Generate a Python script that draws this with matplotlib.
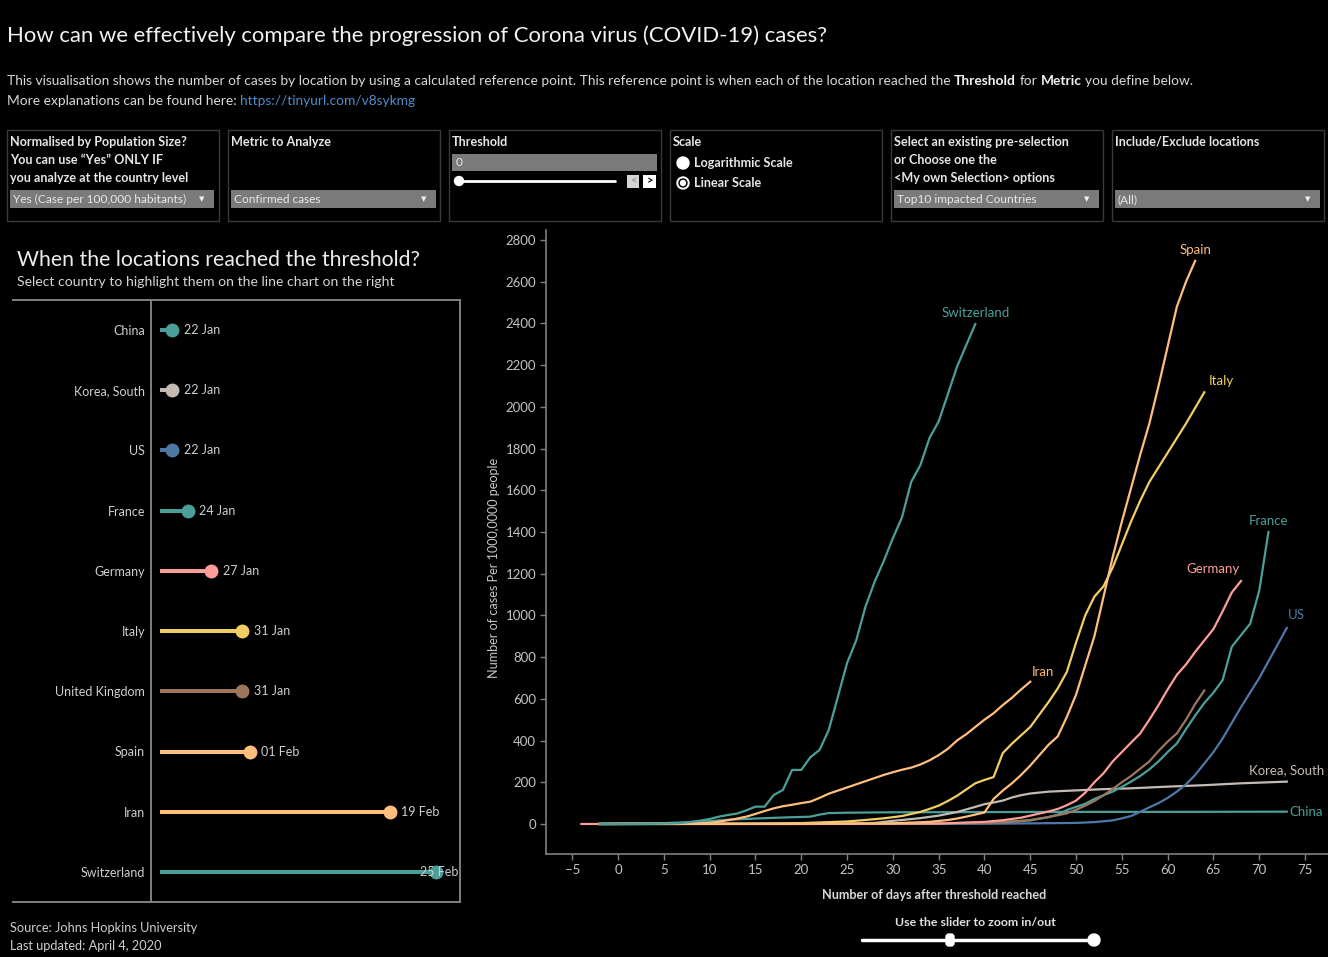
import numpy as np
import pandas as pd
import matplotlib
matplotlib.use("Agg")
import matplotlib.pyplot as plt
from matplotlib.patches import Rectangle, Circle, FancyBboxPatch

W, H = 1328, 957
plt.rcParams['font.family'] = ['Lato', 'DejaVu Sans']

# ---- data ----
countries = ["China", "Korea, South", "US", "France", "Germany", "Italy",
             "United Kingdom", "Spain", "Iran", "Switzerland"]
threshold_dates = ["22 Jan", "22 Jan", "22 Jan", "24 Jan", "27 Jan",
                   "31 Jan", "31 Jan", "01 Feb", "19 Feb", "25 Feb"]

china_days = [-2, 0, 3, 5, 8, 10, 12, 15, 18, 21, 22, 23, 25, 30, 40, 50, 60, 73]
china_vals = [0, 1, 2, 4, 9, 14, 20, 26, 31, 35, 45, 52, 54, 56, 57, 58, 58, 59]

korea_days = [-2, 20, 26, 28, 30, 31, 33, 35, 37, 39, 40, 41, 42, 43, 44, 45, 47,
              50, 53, 56, 60, 64, 68, 73]
korea_vals = [0, 1, 2, 5, 15, 19, 28, 40, 57, 82, 95, 103, 112, 127, 138, 146, 155,
              161, 167, 171, 179, 186, 195, 203]

us_days = [-2, 20, 40, 50, 52, 54, 55, 56, 57, 58, 59, 60, 61, 62, 63, 64, 65, 66,
           67, 68, 69, 70, 71, 72, 73]
us_vals = [0, 0, 1, 5, 9, 17, 27, 38, 58, 80, 100, 125, 155, 190, 235, 290, 345, 410,
           485, 560, 630, 700, 780, 860, 940]

france_days = [-2, 20, 30, 35, 40, 45, 46, 47, 48, 49, 50, 51, 52, 53, 54, 55, 56, 57,
               58, 59, 60, 61, 62, 63, 64, 65, 66, 67, 68, 69, 70, 71]
france_vals = [0, 1, 2, 3, 6, 17, 25, 33, 45, 67, 82, 97, 120, 138, 155, 178, 203, 230,
               262, 300, 345, 386, 455, 520, 580, 630, 690, 850, 905, 960, 1120, 1400]

germany_days = [-4, 20, 35, 40, 42, 44, 46, 47, 48, 49, 50, 51, 52, 53, 54, 55, 56, 57,
                58, 59, 60, 61, 62, 63, 64, 65, 66, 67, 68]
germany_vals = [0, 0, 2, 10, 18, 30, 50, 60, 72, 90, 112, 150, 200, 243, 300, 345, 390,
                434, 500, 570, 645, 715, 765, 825, 880, 935, 1020, 1110, 1165]

italy_days = [-2, 15, 20, 25, 27, 29, 31, 33, 34, 35, 36, 37, 38, 39, 40, 41, 42, 43,
              44, 45, 46, 47, 48, 49, 50, 51, 52, 53, 54, 55, 56, 57, 58, 59, 60, 61,
              62, 63, 64]
italy_vals = [0, 1, 4, 12, 19, 27, 38, 58, 72, 88, 110, 135, 165, 195, 211, 225, 340,
              385, 425, 465, 525, 585, 650, 730, 870, 1000, 1090, 1140, 1230, 1340,
              1450, 1550, 1640, 1710, 1780, 1850, 1920, 1995, 2070]

uk_days = [-2, 20, 35, 40, 42, 44, 45, 46, 47, 48, 49, 50, 51, 52, 53, 54, 55, 56, 57,
           58, 59, 60, 61, 62, 63, 64]
uk_vals = [0, 0, 2, 5, 8, 14, 19, 26, 33, 42, 51, 68, 88, 110, 138, 168, 200, 230, 265,
           300, 350, 395, 434, 500, 575, 640]

spain_days = [-2, 20, 30, 34, 36, 37, 38, 39, 40, 41, 42, 43, 44, 45, 46, 47, 48, 49,
              50, 51, 52, 53, 54, 55, 56, 57, 58, 59, 60, 61, 62, 63]
spain_vals = [0, 1, 3, 10, 19, 26, 35, 45, 55, 120, 160, 195, 235, 280, 330, 380, 420,
              514, 620, 760, 900, 1090, 1280, 1450, 1610, 1770, 1920, 2100, 2290, 2480,
              2600, 2700]

iran_days = [-2, 8, 10, 11, 12, 13, 14, 15, 16, 17, 18, 19, 20, 21, 22, 23, 24, 25, 26,
             27, 28, 29, 30, 31, 32, 33, 34, 35, 36, 37, 38, 39, 40, 41, 42, 43, 44, 45]
iran_vals = [0, 1, 5, 11, 18, 26, 35, 48, 62, 75, 85, 92, 100, 107, 125, 145, 160, 175,
             190, 205, 220, 235, 248, 260, 270, 285, 305, 330, 360, 400, 430, 465, 500,
             531, 570, 605, 645, 682]

swiss_days = [-2, 2, 4, 6, 7, 8, 9, 10, 11, 12, 13, 14, 15, 16, 17, 18, 19, 20, 21, 22,
              23, 24, 25, 26, 27, 28, 29, 30, 31, 32, 33, 34, 35, 36, 37, 38, 39]
swiss_vals = [0, 0, 1, 3, 5, 10, 16, 24, 35, 43, 50, 65, 83, 83, 139, 163, 259, 259,
              320, 355, 450, 610, 771, 880, 1040, 1160, 1260, 1370, 1470, 1640, 1720,
              1850, 1930, 2060, 2192, 2295, 2397]

colors = {"China": "#4aa099", "Korea, South": "#c4bbb5", "US": "#4e79a7",
          "France": "#4aa099", "Germany": "#ff9d9a", "Italy": "#f1ce63",
          "United Kingdom": "#9d7660", "Spain": "#ffbe7d", "Iran": "#ffbe7d",
          "Switzerland": "#4aa099"}

series = [("China", china_days, china_vals), ("Korea, South", korea_days, korea_vals),
          ("US", us_days, us_vals), ("France", france_days, france_vals),
          ("United Kingdom", uk_days, uk_vals), ("Germany", germany_days, germany_vals),
          ("Iran", iran_days, iran_vals), ("Italy", italy_days, italy_vals),
          ("Spain", spain_days, spain_vals), ("Switzerland", swiss_days, swiss_vals)]

# label offsets (points) and alignment for the line-end labels
label_pos = {"Switzerland": (0, 8, "center"), "Spain": (0, 8, "center"),
             "Italy": (12, 8, "center"), "France": (0, 8, "center"),
             "Germany": (-20, 9, "center"), "US": (7, 9, "center"),
             "Iran": (9, 7, "center"), "Korea, South": (0, 8, "center"),
             "China": (2, 0, "left")}

TXT = "#cfcfcf"
GRID = "#808080"

fig = plt.figure(figsize=(W / 100, H / 100), dpi=100, facecolor="black")
ov = fig.add_axes([0, 0, 1, 1], zorder=0)
ov.set_xlim(0, W)
ov.set_ylim(H, 0)
ov.axis("off")
renderer = fig.canvas.get_renderer()


def ax_rect(x0, y0, x1, y1):
    return [x0 / W, 1 - y1 / H, (x1 - x0) / W, (y1 - y0) / H]


def text_width(s, size, weight="normal"):
    t = ov.text(0, 0, s, fontsize=size, fontweight=weight)
    w = t.get_window_extent(renderer=renderer).width
    t.remove()
    return w


def fit(s, width, weight="normal"):
    return 10 * width / text_width(s, 10, weight)


def put(x, y, s, size, color=TXT, weight="normal", ha="left", **kw):
    return ov.text(x, y, s, fontsize=size, color=color, fontweight=weight,
                   ha=ha, va="center", **kw)


def rich(x, y, parts, size):
    space = text_width("x x", size) - text_width("xx", size)
    for s, weight, color in parts:
        put(x, y, s, size, color=color, weight=weight)
        x += text_width(s, size, weight) + space


# ---- header ----
title = "How can we effectively compare the progression of Corona virus (COVID-19) cases?"
put(7, 36, title, fit(title, 821), color="#f2f2f2")

line1 = ("This visualisation shows the number of cases by location by using a calculated "
         "reference point. This reference point is when each of the location reached the "
         "Threshold for Metric you define below.")
sub_size = fit(line1, 1180)
rich(7, 81, [("This visualisation shows the number of cases by location by using a "
              "calculated reference point. This reference point is when each of the "
              "location reached the", "normal", "#d9d9d9"),
             ("Threshold", "bold", "#f2f2f2"), ("for", "normal", "#d9d9d9"),
             ("Metric", "bold", "#f2f2f2"), ("you define below.", "normal", "#d9d9d9")],
     sub_size)
rich(7, 101, [("More explanations can be found here:", "normal", "#d9d9d9"),
              ("https://tinyurl.com/v8sykmg", "normal", "#4f8cc9")], sub_size)

# ---- parameter panels ----
panels = [(7, 219), (228, 440), (449, 661), (670, 882), (891, 1103), (1112, 1324)]
for x0, x1 in panels:
    ov.add_patch(Rectangle((x0, 130), x1 - x0, 91, fill=False, ec="#3a3a3a", lw=1))

psize = fit("Normalised by Population Size?", 178, "bold")
pcol = "#e6e6e6"
panel_lines = [(10, ["Normalised by Population Size?", "You can use \u201cYes\u201d ONLY IF",
                     "you analyze at the country level"]),
               (231, ["Metric to Analyze"]),
               (452, ["Threshold"]),
               (673, ["Scale"]),
               (894, ["Select an existing pre-selection", "or Choose one the",
                      "<My own Selection> options"]),
               (1115, ["Include/Exclude locations"])]
for x, lines in panel_lines:
    for k, s in enumerate(lines):
        put(x, 142 + 18 * k, s, psize, color=pcol, weight="bold")

dropdowns = [(10, 214, "Yes (Case per 100,000 habitants)"), (231, 436, "Confirmed cases"),
             (894, 1099, "Top10 impacted Countries"), (1115, 1320, "(All)")]
dsize = fit("Yes (Case per 100,000 habitants)", 172)
for x0, x1, s in dropdowns:
    ov.add_patch(Rectangle((x0, 190), x1 - x0, 18, color="#7a7a7a", lw=0))
    put(x0 + 3, 199.5, s, dsize, color="#e8e8e8")
    put(x1 - 12, 199, "\u25bc", 5, color="#f0f0f0", ha="center")

# threshold input and slider
ov.add_patch(Rectangle((452, 154), 205, 17, color="#7a7a7a", lw=0))
put(456, 163, "0", dsize, color="#e8e8e8")
ov.plot([457, 615], [181, 181], color="white", lw=2, solid_capstyle="round")
ov.add_patch(Circle((459, 181), 4.5, color="white"))
ov.add_patch(Rectangle((627, 175), 12, 13, color="#d5d5d5", lw=0))
ov.add_patch(Rectangle((643, 175), 13, 13, color="white", lw=0))
put(633, 181, "<", 8, color="#9a9a9a", ha="center", weight="bold")
put(649.5, 181, ">", 8, color="black", ha="center", weight="bold")

# scale radio buttons
ov.add_patch(Circle((683, 163), 6, color="white"))
ov.add_patch(Circle((683, 183), 6, color="white"))
ov.add_patch(Circle((683, 183), 4, color="black"))
ov.add_patch(Circle((683, 183), 2.5, color="white"))
put(694, 163, "Logarithmic Scale", psize, color=pcol, weight="bold")
put(694, 183, "Linear Scale", psize, color=pcol, weight="bold")

# ---- left panel: lollipop ----
s1 = "When the locations reached the threshold?"
put(17, 260, s1, fit(s1, 404), color="#ececec")
s2 = "Select country to highlight them on the line chart on the right"
put(17, 282, s2, fit(s2, 376), color="#d5d5d5")

ov.plot([13, 460], [300, 300], color=GRID, lw=1.4)
ov.plot([13, 460], [902, 902], color=GRID, lw=1.4)
ov.plot([151, 151], [300, 902], color=GRID, lw=1.4)
ov.plot([460, 460], [300, 902], color=GRID, lw=1.4)

day0 = pd.Timestamp("2020-01-22")
reach = (pd.to_datetime([d + " 2020" for d in threshold_dates], format="%d %b %Y") - day0).days
start = -1.5

lp = fig.add_axes(ax_rect(151, 300, 460, 902), zorder=2)
lp.set_facecolor("none")
for i, name in enumerate(countries):
    c = colors[name]
    lp.plot([start, reach[i]], [i, i], color=c, lw=2.9, solid_capstyle="butt")
    lp.plot(reach[i], i, "o", ms=10, color=c, mec="none")
    if reach[i] > 33:
        lp.annotate(threshold_dates[i], xy=(1, i), xycoords=lp.get_yaxis_transform(),
                    xytext=(-1, 0), textcoords="offset points", ha="right", va="center",
                    fontsize=9, color=TXT)
    else:
        lp.annotate(threshold_dates[i], xy=(reach[i], i), xytext=(8.5, 0),
                    textcoords="offset points", ha="left", va="center",
                    fontsize=9, color=TXT)
lp.set_xlim(-2.7, 37.07)
lp.set_ylim(9.5, -0.5)
lp.set_xticks([])
lp.set_yticks(range(len(countries)))
lp.set_yticklabels(countries, fontsize=9, color=TXT)
lp.tick_params(axis="y", length=0, pad=4.3)
for sp in lp.spines.values():
    sp.set_visible(False)

put(10, 928, "Source: Johns Hopkins University", fit("Source: Johns Hopkins University", 188),
    color="#cfcfcf")
put(10, 946, "Last updated: April 4, 2020", fit("Source: Johns Hopkins University", 188),
    color="#cfcfcf")

# ---- right panel: lines ----
ax = fig.add_axes(ax_rect(546, 230, 1328, 854), zorder=2)
ax.set_facecolor("none")
for name, days, vals in series:
    ax.plot(days, vals, color=colors[name], lw=1.6, solid_joinstyle="round")
    if name == "United Kingdom":
        continue
    dx, dy, ha = label_pos[name]
    ax.annotate(name, xy=(days[-1], vals[-1]), xytext=(dx, dy), textcoords="offset points",
                ha=ha, va="center", fontsize=9.5, color=colors[name], annotation_clip=False)

ax.set_xlim(-7.86, 77.5)
ax.set_ylim(-144, 2848)
ax.set_xticks(range(-5, 80, 5))
ax.set_yticks(range(0, 2801, 200))
for sp in ["top", "right"]:
    ax.spines[sp].set_visible(False)
for sp in ["left", "bottom"]:
    ax.spines[sp].set_color(GRID)
    ax.spines[sp].set_linewidth(1.2)
ax.tick_params(colors=GRID, labelcolor="#c4c4c4", labelsize=9.5, length=4, width=1, pad=3)

ylab = "Number of cases Per 1000,0000 people"
ov.text(494, 568, ylab, fontsize=fit(ylab, 221), color="#c8c8c8", rotation=90,
        ha="center", va="center")
xlab = "Number of days after threshold reached"
put(934, 895, xlab, fit(xlab, 226, "bold"), color="#d8d8d8", weight="bold", ha="center")
sl = "Use the slider to zoom in/out"
put(975, 922, sl, fit(sl, 162, "bold"), color="#e0e0e0", weight="bold", ha="center")

ov.plot([862, 1098], [940, 940], color="white", lw=2.5, solid_capstyle="round")
ov.add_patch(FancyBboxPatch((946, 934), 8, 12, boxstyle="round,pad=0,rounding_size=3",
                            color="white"))
ov.add_patch(Circle((1094, 940), 6, color="white"))

plt.savefig("out.png", dpi=100, facecolor="black")
